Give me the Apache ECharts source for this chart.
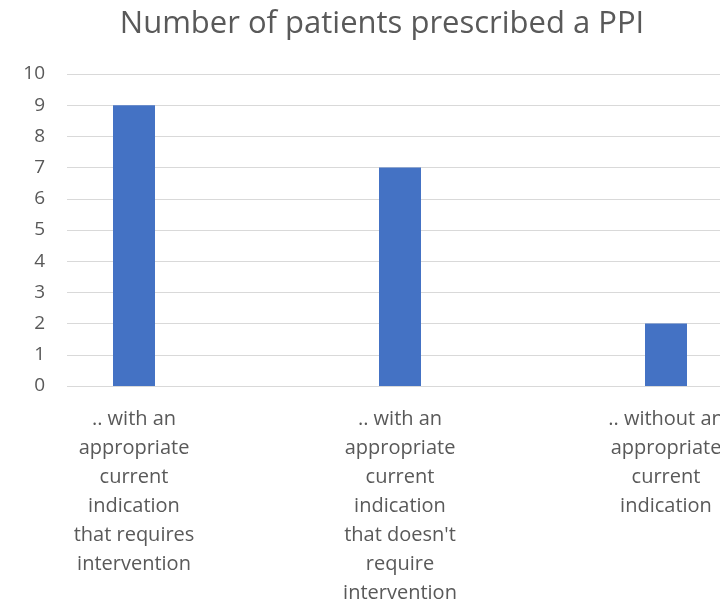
<!DOCTYPE html>
<html><head><meta charset="utf-8">
<script src="https://cdn.jsdelivr.net/npm/echarts@6/dist/echarts.min.js"></script>
<style>html,body{margin:0;padding:0;background:#fff;overflow:hidden;width:720px;height:604px}#c{width:900px;height:604px}</style>
</head><body><div id="c"></div>
<script>
const categories = [
  ".. with an\nappropriate\ncurrent\nindication\nthat requires\nintervention",
  ".. with an\nappropriate\ncurrent\nindication\nthat doesn't\nrequire\nintervention",
  ".. without an\nappropriate\ncurrent\nindication"
];
const values = [9, 7, 2];
const titleText = "Number of patients prescribed a PPI";
const yMin = 0, yMax = 10, yStep = 1;

const txt = '#595959', grid = '#d9d9d9', font = 'Open Sans';
const chart = echarts.init(document.getElementById('c'), null, {renderer:'canvas'});
chart.setOption({
  animation: false,
  title: {
    text: titleText,
    left: 377, top: 4, textAlign: 'center',
    textStyle: {fontFamily: font, fontSize: 31, fontWeight: 'normal', color: txt}
  },
  grid: [
    {left: 67, top: 74, width: 798, height: 312, containLabel: false, outerBoundsMode: 'none'},
    {left: 1, top: 74, width: 798, height: 312, containLabel: false, outerBoundsMode: 'none'}
  ],
  xAxis: [
    {gridIndex: 0, type: 'value', min: 0, max: 1, show: false},
    {
      gridIndex: 1, type: 'category', data: categories,
      axisLine: {show: false}, axisTick: {show: false},
      axisLabel: {color: txt, fontFamily: font, fontSize: 20, lineHeight: 29, margin: 19, interval: 0}
    }
  ],
  yAxis: [
    {
      gridIndex: 0, type: 'value', min: yMin, max: yMax, interval: yStep,
      axisLine: {show: false}, axisTick: {show: false},
      splitLine: {lineStyle: {color: grid, width: 1}},
      axisLabel: {color: txt, fontFamily: font, fontSize: 19, margin: 22}
    },
    {gridIndex: 1, type: 'value', min: yMin, max: yMax, show: false, splitLine: {show: false}}
  ],
  series: [{
    type: 'bar', xAxisIndex: 1, yAxisIndex: 1, data: values, barWidth: 42,
    itemStyle: {color: '#4472c4'}
  }]
});
</script></body></html>
